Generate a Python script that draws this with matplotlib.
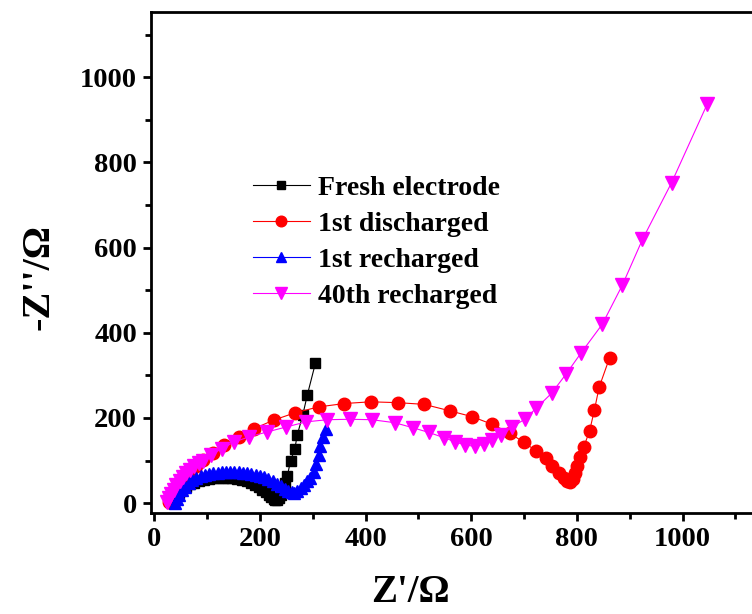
import matplotlib
matplotlib.use("Agg")
import matplotlib.pyplot as plt
from matplotlib.ticker import MultipleLocator

plt.rcParams['font.family'] = ['Liberation Serif', 'DejaVu Serif']
plt.rcParams['font.weight'] = 'bold'

# Fresh electrode
fresh_x = [35, 38, 42, 47, 53, 60, 68, 76, 85, 94, 103, 112, 121, 130, 139, 148, 157, 166,
           175, 183, 191, 198, 205, 211, 217, 222, 226, 229, 232, 236, 240, 244, 248, 252,
           258, 266, 271, 281, 290, 305]
fresh_y = [0, 8, 16, 24, 31, 38, 44, 48, 52, 55, 57, 58, 59, 59, 59, 58, 57, 55,
           52, 48, 43, 38, 32, 26, 20, 14, 10, 8, 8, 12, 20, 32, 48, 64,
           99, 127, 161, 206, 255, 328]

# 1st discharged
dis_x = [28, 31, 35, 40, 46, 53, 61, 70, 80, 92, 111, 133, 160, 189, 226, 266, 311, 360,
         410, 461, 511, 559, 602, 640, 674, 699, 723, 741, 753, 766, 775, 781, 787, 792,
         797, 800, 806, 813, 824, 833, 842, 862]
dis_y = [3, 12, 22, 33, 44, 55, 66, 76, 87, 101, 118, 137, 156, 175, 195, 212, 226, 234,
         238, 236, 232, 217, 203, 185, 164, 143, 123, 105, 87, 71, 58, 52, 50, 56,
         70, 87, 109, 132, 170, 218, 272, 342]

# 1st recharged
rec_x = [40, 43, 47, 52, 58, 65, 72, 80, 88, 96, 104, 112, 120, 128, 136, 144, 152, 160,
         168, 176, 184, 192, 200, 208, 216, 224, 232, 240, 247, 254, 260, 265, 270, 277,
         283, 290, 295, 302, 307, 311, 314, 319, 325]
rec_y = [0, 10, 20, 30, 39, 47, 54, 59, 63, 66, 69, 71, 72, 73, 74, 74, 74, 73,
         72, 71, 69, 67, 64, 61, 57, 52, 46, 40, 34, 29, 26, 25, 28, 35,
         43, 52, 60, 74, 92, 113, 134, 156, 175]

# 40th recharged
r40_x = [25, 28, 32, 37, 42, 48, 54, 61, 68, 76, 84, 92, 107, 128, 152, 180, 213, 250,
         288, 328, 370, 412, 455, 490, 520, 548, 570, 589, 607, 624, 640, 657, 678, 701,
         723, 752, 780, 808, 848, 886, 924, 979, 1047]
r40_y = [2, 12, 22, 32, 42, 52, 61, 70, 79, 87, 94, 100, 113, 128, 144, 156, 167, 179,
         191, 196, 197, 196, 189, 177, 166, 154, 144, 136, 134, 138, 148, 161, 179, 197,
         223, 258, 304, 353, 420, 512, 619, 752, 938]

labels = ['Fresh electrode', '1st discharged', '1st recharged', '40th recharged']

fig = plt.figure(figsize=(7.52, 6.14), dpi=100)
# the plot frame runs past the right edge of the picture
ax = fig.add_axes([151 / 752, 101 / 614, 632 / 752, 501 / 614])

ax.plot(fresh_x, fresh_y, '-s', color='black', lw=0.8, ms=7, label=labels[0])
ax.plot(dis_x, dis_y, '-o', color='red', lw=0.8, ms=9, label=labels[1])
ax.plot(rec_x, rec_y, '-^', color='blue', lw=0.8, ms=8.5, label=labels[2])
ax.plot(r40_x, r40_y, '-v', color='magenta', lw=0.8, ms=9.5, label=labels[3])

ax.set_xlim(-6, 1190)
ax.set_ylim(-23, 1153)
ax.xaxis.set_major_locator(MultipleLocator(200))
ax.xaxis.set_minor_locator(MultipleLocator(100))
ax.yaxis.set_major_locator(MultipleLocator(200))
ax.yaxis.set_minor_locator(MultipleLocator(100))
ax.tick_params(which='major', direction='out', length=6, width=2, labelsize=20.5, pad=4)
ax.tick_params(which='minor', direction='out', length=4, width=2)
for s in ax.spines.values():
    s.set_linewidth(2)

ax.set_xlabel("Z'/Ω", fontsize=28, fontweight='bold')
ax.set_ylabel("-Z''/Ω", fontsize=29, fontweight='bold')
ax.xaxis.set_label_coords(0.41, -0.122)
ax.yaxis.set_label_coords(-0.148, 0.472)

ax.legend(loc='center left', bbox_to_anchor=(253 / 752, 1 - 242 / 614),
          bbox_transform=fig.transFigure, frameon=False, fontsize=20,
          handlelength=2.05, handletextpad=0.29, labelspacing=0.38,
          borderpad=0, borderaxespad=0, markerscale=0.85)

fig.savefig('out.png', dpi=100)
